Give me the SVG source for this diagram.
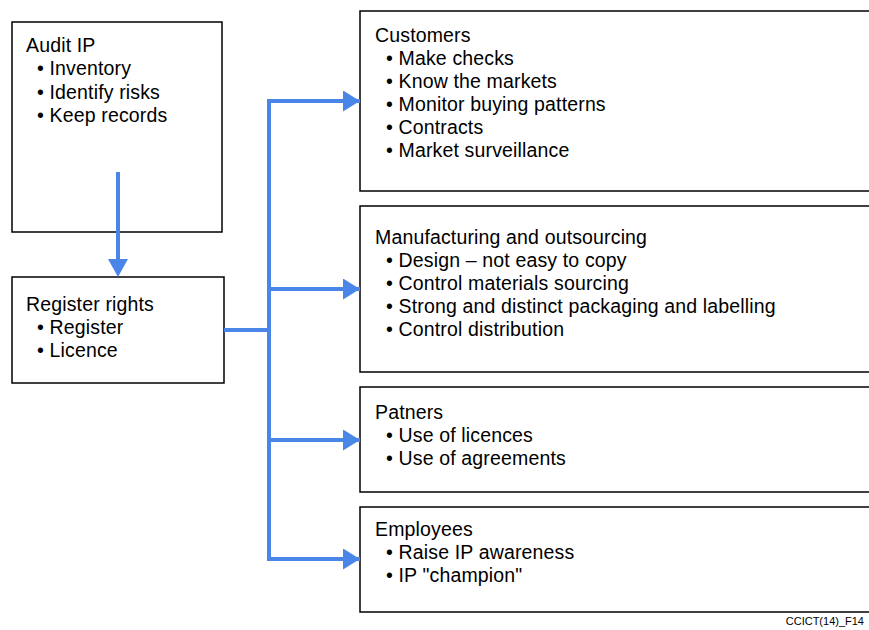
<svg xmlns="http://www.w3.org/2000/svg" width="869" height="630" viewBox="0 0 869 630">
<defs>
<style>
.box{fill:#fff;stroke:#000;stroke-width:1.5}
.t{font-family:"Liberation Sans",Arial,sans-serif;font-size:19.5px;letter-spacing:0.15px;fill:#000}
.conn{fill:none;stroke:#4a86e8;stroke-width:4}
.foot{font-family:"Liberation Sans",Arial,sans-serif;font-size:11px;fill:#000}
</style>
<marker id="ah" markerUnits="userSpaceOnUse" markerWidth="18" markerHeight="21" refX="17" refY="10.5" orient="auto">
<path d="M0,0 L17,10.5 L0,21 Z" fill="#4a86e8"/>
</marker>
</defs>
<rect width="869" height="630" fill="#fff"/>

<g id="audit">
<rect class="box" x="12" y="22" width="210" height="210"/>
<text class="t" x="26" y="52">Audit IP</text>
<text class="t" x="37" y="75">• Inventory</text>
<text class="t" x="37" y="99">• Identify risks</text>
<text class="t" x="37" y="122">• Keep records</text>
</g>

<g id="register">
<rect class="box" x="12" y="277" width="212" height="106"/>
<text class="t" x="26" y="311">Register rights</text>
<text class="t" x="37" y="334">• Register</text>
<text class="t" x="37" y="357">• Licence</text>
</g>

<g id="customers">
<rect class="box" x="360" y="11" width="520" height="180"/>
<text class="t" x="375" y="42">Customers</text>
<text class="t" x="386" y="65">• Make checks</text>
<text class="t" x="386" y="88">• Know the markets</text>
<text class="t" x="386" y="111">• Monitor buying patterns</text>
<text class="t" x="386" y="134">• Contracts</text>
<text class="t" x="386" y="157">• Market surveillance</text>
</g>

<g id="manufacturing">
<rect class="box" x="360" y="206" width="520" height="166"/>
<text class="t" x="375" y="244">Manufacturing and outsourcing</text>
<text class="t" x="386" y="267">• Design – not easy to copy</text>
<text class="t" x="386" y="290">• Control materials sourcing</text>
<text class="t" x="386" y="313">• Strong and distinct packaging and labelling</text>
<text class="t" x="386" y="336">• Control distribution</text>
</g>

<g id="partners">
<rect class="box" x="360" y="387" width="520" height="105"/>
<text class="t" x="375" y="419">Patners</text>
<text class="t" x="386" y="442">• Use of licences</text>
<text class="t" x="386" y="465">• Use of agreements</text>
</g>

<g id="employees">
<rect class="box" x="360" y="507" width="520" height="105"/>
<text class="t" x="375" y="536">Employees</text>
<text class="t" x="386" y="559">• Raise IP awareness</text>
<text class="t" x="386" y="582">• IP "champion"</text>
</g>

<g id="connectors">
<path class="conn" d="M118,172 V260"/>
<path d="M108,259 L128,259 L118,277 Z" fill="#4a86e8"/>
<path class="conn" d="M224,330 H269"/>
<path class="conn" d="M269,101 V559"/>
<path class="conn" d="M267,101 H360" marker-end="url(#ah)"/>
<path class="conn" d="M269,289 H360" marker-end="url(#ah)"/>
<path class="conn" d="M269,440 H360" marker-end="url(#ah)"/>
<path class="conn" d="M267,559 H360" marker-end="url(#ah)"/>
</g>

<text class="foot" x="864" y="625" text-anchor="end">CCICT(14)_F14</text>
</svg>
